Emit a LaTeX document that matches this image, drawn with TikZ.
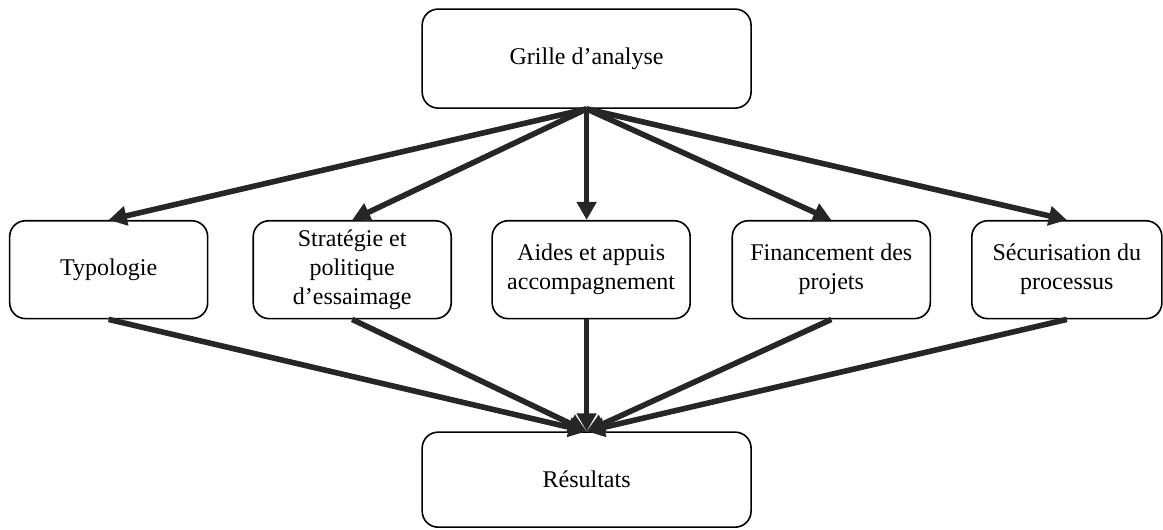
\documentclass[tikz,border=0pt]{standalone}
\usepackage{fontspec}
\setmainfont{Liberation Serif}
\usetikzlibrary{arrows.meta}
\begin{document}
\begin{tikzpicture}[
    box/.style = {draw, thick, rounded corners = 0.28cm, align = center, font = \fontsize{12}{14.5}\selectfont, minimum width = 3.48cm, minimum height = 1.72cm},
    flow/.style = {draw = black!85, line width = 2.8pt, -{Triangle[length = 9pt, width = 9.5pt]}}
    ]
        \useasboundingbox (0,0) rectangle (20.44,-9.30);

        %Grille
        \node [box, minimum width = 5.78cm, minimum height = 1.74cm]
        (grille)at(10.31,-1.03){Grille d’analyse};

        %Typologie
        \node [box]
        (typo)at(1.91,-4.74){Typologie};
        %Strategie
        \node [box]
        (strat)at(6.19,-4.74){Stratégie et\\politique\\d’essaimage};
        %Aides
        \node [box]
        (aides)at(10.39,-4.74){Aides et appuis\\accompagnement};
        %Financement
        \node [box]
        (fin)at(14.61,-4.74){Financement des\\projets};
        %Securisation
        \node [box, minimum width = 3.34cm]
        (secu)at(18.75,-4.74){Sécurisation du\\processus};

        %Resultats
        \node [box, minimum width = 5.78cm, minimum height = 1.67cm]
        (res)at(10.31,-8.43){Résultats};

        \foreach \m in {typo, strat, fin, secu}{
            \draw [flow](grille.south)--(\m.north);
            \draw [flow](\m.south)--(res.north);
        }
        \draw [flow](grille.south)--(aides.north -| grille.south);
        \draw [flow](aides.south -| res.north)--(res.north);

    \end{tikzpicture}
\end{document}
